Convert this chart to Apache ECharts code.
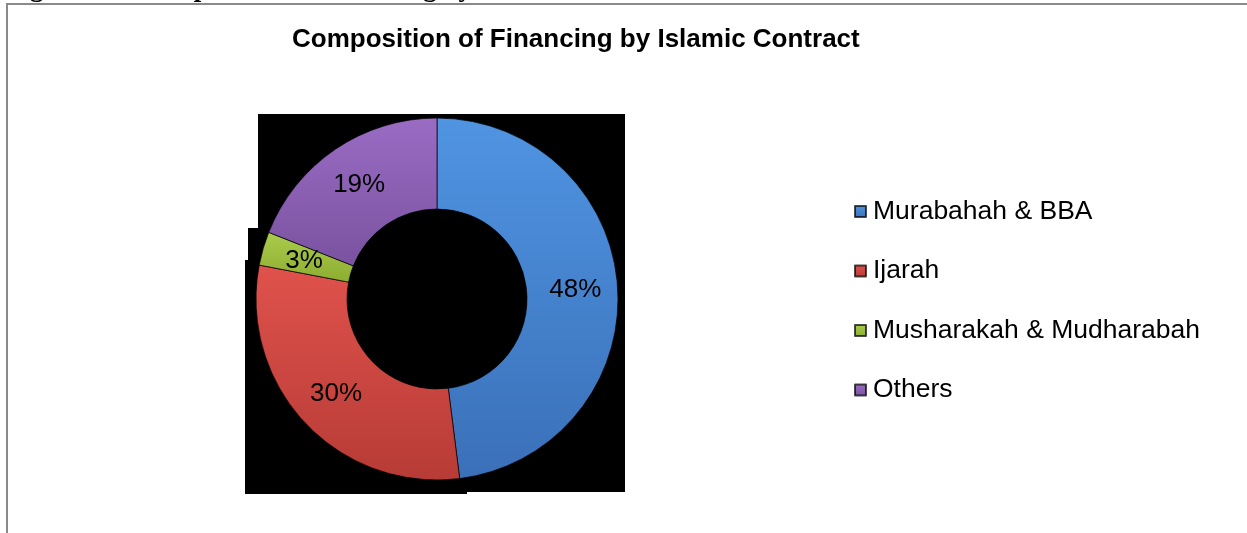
<!DOCTYPE html>
<html lang="en">

<head>
  <meta charset="UTF-8">
  <title>Composition of Financing by Islamic Contract</title>
  <style>
    html, body { margin: 0; padding: 0; background: #fff; }
  </style>
</head>

<body>
  <div class="box" style="width: 1247px;height: 533px;"></div>

  <script src="https://cdn.jsdelivr.net/npm/echarts@6/dist/echarts.min.js"></script>
  <script>
    // data
    let contracts = ['Murabahah & BBA', 'Ijarah', 'Musharakah & Mudharabah', 'Others']
    let shares = [48, 30, 3, 19]
    let colorsTop = ['#5094e2', '#e0524c', '#aacb4c', '#9a6cc4']
    let colorsBottom = ['#3a70b8', '#b73b36', '#8cad2f', '#7a52a0']

    let pieData = []
    for (let i = 0; i < contracts.length; i++) {
      pieData.push({
        name: contracts[i],
        value: shares[i],
        itemStyle: {
          color: new echarts.graphic.LinearGradient(0, 0, 0, 1, [
            { offset: 0, color: colorsTop[i] },
            { offset: 1, color: colorsBottom[i] }
          ])
        }
      })
    }

    let myChart = echarts.init(document.querySelector('.box'))
    let option = {
      animation: false,
      title: {
        text: 'Composition of Financing by Islamic Contract',
        left: 292,
        top: 27,
        padding: 0,
        textStyle: {
          fontFamily: 'Liberation Sans, Arial, sans-serif',
          fontSize: 26,
          fontWeight: 'bold',
          color: '#000'
        }
      },
      legend: {
        orient: 'vertical',
        left: 854,
        top: 198,
        itemWidth: 11,
        itemHeight: 11,
        itemGap: 32.5,
        icon: 'rect',
        padding: 0,
        textStyle: {
          fontFamily: 'Liberation Sans, Arial, sans-serif',
          fontSize: 26.5,
          color: '#000',
          padding: [0, 0, 0, 2]
        },
        data: contracts
      },
      graphic: [
        // frame of the figure
        {
          type: 'polyline',
          shape: { points: [[7, 533], [7, 4], [1247, 4]] },
          style: { stroke: '#8a8a8a', lineWidth: 2, fill: null }
        },
        // caption cut off at the top edge
        {
          type: 'text',
          left: 6,
          top: -24,
          style: {
            text: 'Figure 4.1: Composition of Financing by Islamic Contract',
            font: 'bold 27px "Liberation Serif", "Times New Roman", serif',
            fill: '#000'
          }
        },
        // black backdrop behind the doughnut
        {
          type: 'rect',
          shape: { x: 248, y: 228, width: 60, height: 70 },
          style: { fill: '#000' }
        },
        {
          type: 'rect',
          shape: { x: 245, y: 260, width: 222, height: 234 },
          style: { fill: '#000' }
        },
        {
          type: 'rect',
          shape: { x: 258, y: 114, width: 367, height: 378 },
          style: { fill: '#000' }
        }
      ],
      series: [{
        type: 'pie',
        center: [437, 299],
        radius: [90, 181],
        startAngle: 90,
        z: 5,
        itemStyle: {
          borderColor: 'rgba(0,0,0,0.7)',
          borderWidth: 1
        },
        label: {
          show: true,
          position: 'inside',
          formatter: '{c}%',
          fontFamily: 'Liberation Sans, Arial, sans-serif',
          fontSize: 26,
          color: '#000'
        },
        labelLine: { show: false },
        emphasis: { disabled: true },
        data: pieData
      }]
    }
    myChart.setOption(option)
  </script>
</body>

</html>
